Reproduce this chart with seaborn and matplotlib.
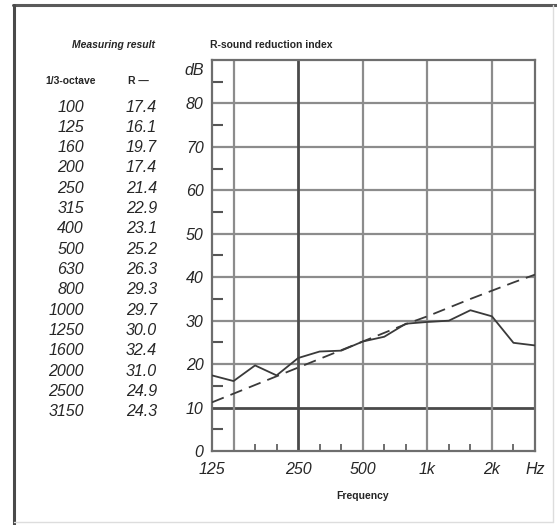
import matplotlib
matplotlib.use("Agg")
import matplotlib.pyplot as plt
import seaborn as sns
import pandas as pd
from matplotlib.lines import Line2D

# ---- data ----
freq_labels = ["100", "125", "160", "200", "250", "315", "400", "500",
               "630", "800", "1000", "1250", "1600", "2000", "2500", "3150"]
r_values = [17.4, 16.1, 19.7, 17.4, 21.4, 22.9, 23.1, 25.2,
            26.3, 29.3, 29.7, 30.0, 32.4, 31.0, 24.9, 24.3]
ref_values = [11.2, 13.2, 15.2, 17.2, 19.2, 21.2, 23.2, 25.2,
              27.2, 29.2, 31.0, 33.0, 35.0, 36.9, 38.8, 40.6]
x_tick_labels = ["125", "250", "500", "1k", "2k", "Hz"]
y_tick_labels = ["0", "10", "20", "30", "40", "50", "60", "70", "80", "dB"]

W, H = 557, 525
sns.set_theme(style="white")
plt.rcParams["font.family"] = ["Liberation Sans", "DejaVu Sans"]

fig = plt.figure(figsize=(W / 100, H / 100), dpi=100)
fig.patch.set_facecolor("white")

def P(x, y):
    return (x / W, 1 - y / H)

ax = fig.add_axes([212 / W, 1 - 451 / H, (535 - 212) / W, (451 - 60) / H])

idx = list(range(len(freq_labels)))
df = pd.DataFrame({"band": idx, "R": r_values, "ref": ref_values})

txt = "#262626"

# grid lines
gray = "#8c8c8c"
dark = "#4a4a4a"
for yv in [20, 30, 40, 50, 60, 70, 80]:
    ax.axhline(yv, color=gray, lw=1.6, zorder=1)
ax.axhline(10, color=dark, lw=2.0, zorder=1)
for xv in [1, 7, 10, 13]:
    ax.axvline(xv, color=gray, lw=1.6, zorder=1)
ax.axvline(4, color=dark, lw=2.0, zorder=1)

sns.lineplot(data=df, x="band", y="R", ax=ax, color="#3a3a3a", lw=1.3, zorder=3)
sns.lineplot(data=df, x="band", y="ref", ax=ax, color="#3a3a3a", lw=1.3,
             dashes=False, zorder=3)
ax.lines[-1].set_dashes((7, 4))

ax.set_xlim(0, 15)
ax.set_ylim(0, 90)
ax.set_xlabel("")
ax.set_ylabel("")

ax.set_xticks([0, 4, 7, 10, 13, 15])
ax.set_xticklabels(x_tick_labels, style="italic", fontsize=11.5, color=txt)
ax.set_yticks([0, 10, 20, 30, 40, 50, 60, 70, 80, 88])
ax.set_yticklabels(y_tick_labels, style="italic", fontsize=11.5, color=txt)
ax.tick_params(axis="x", which="major", length=0, pad=8)
ax.tick_params(axis="y", which="major", length=0, pad=6)
ax.set_xticks([2, 3, 5, 6, 8, 9, 11, 12, 14], minor=True)
ax.set_yticks([5, 15, 25, 35, 45, 55, 65, 75, 85], minor=True)
ax.tick_params(axis="x", which="minor", direction="in", length=5, width=1.2,
               color="#555555", bottom=True)
ax.tick_params(axis="y", which="minor", direction="in", length=8, width=1.5,
               color="#555555", left=True)
for s in ax.spines.values():
    s.set_color("#6e6e6e")
    s.set_linewidth(1.6)

# texts
fig.text(*P(113, 45), "Measuring result", ha="center", va="center",
         fontsize=7.5, style="italic", weight="bold", color=txt)
fig.text(*P(210, 45), "R-sound reduction index", ha="left", va="center",
         fontsize=7.5, weight="bold", color=txt)
fig.text(*P(71, 81), "1/3-octave", ha="center", va="center",
         fontsize=7.5, weight="bold", color=txt)
fig.text(*P(128, 81), "R —", ha="left", va="center",
         fontsize=7.5, weight="bold", color=txt)
fig.text(*P(363, 496), "Frequency", ha="center", va="center",
         fontsize=7.5, weight="bold", color=txt)

for i, (f, r) in enumerate(zip(freq_labels, r_values)):
    yy = 107 + i * 20.33
    fig.text(*P(84, yy), f, ha="right", va="center", fontsize=11.5,
             style="italic", color=txt)
    fig.text(*P(126, yy), f"{r:.1f}", ha="left", va="center", fontsize=11.5,
             style="italic", color=txt)

# outer frame
fig.add_artist(Line2D([13 / W, 1], [1 - 5 / H, 1 - 5 / H], transform=fig.transFigure,
                      color="#5a5a5a", lw=2.2))
fig.add_artist(Line2D([14 / W, 14 / W], [0, 1 - 5 / H], transform=fig.transFigure,
                      color="#4a4a4a", lw=2.2))
fig.add_artist(Line2D([553 / W, 553 / W], [1 - 522 / H, 1 - 5 / H], transform=fig.transFigure,
                      color="#dddddd", lw=1.0))
fig.add_artist(Line2D([14 / W, 553 / W], [1 - 522 / H, 1 - 522 / H], transform=fig.transFigure,
                      color="#dddddd", lw=1.0))

fig.savefig("out.png", dpi=100, facecolor="white")
